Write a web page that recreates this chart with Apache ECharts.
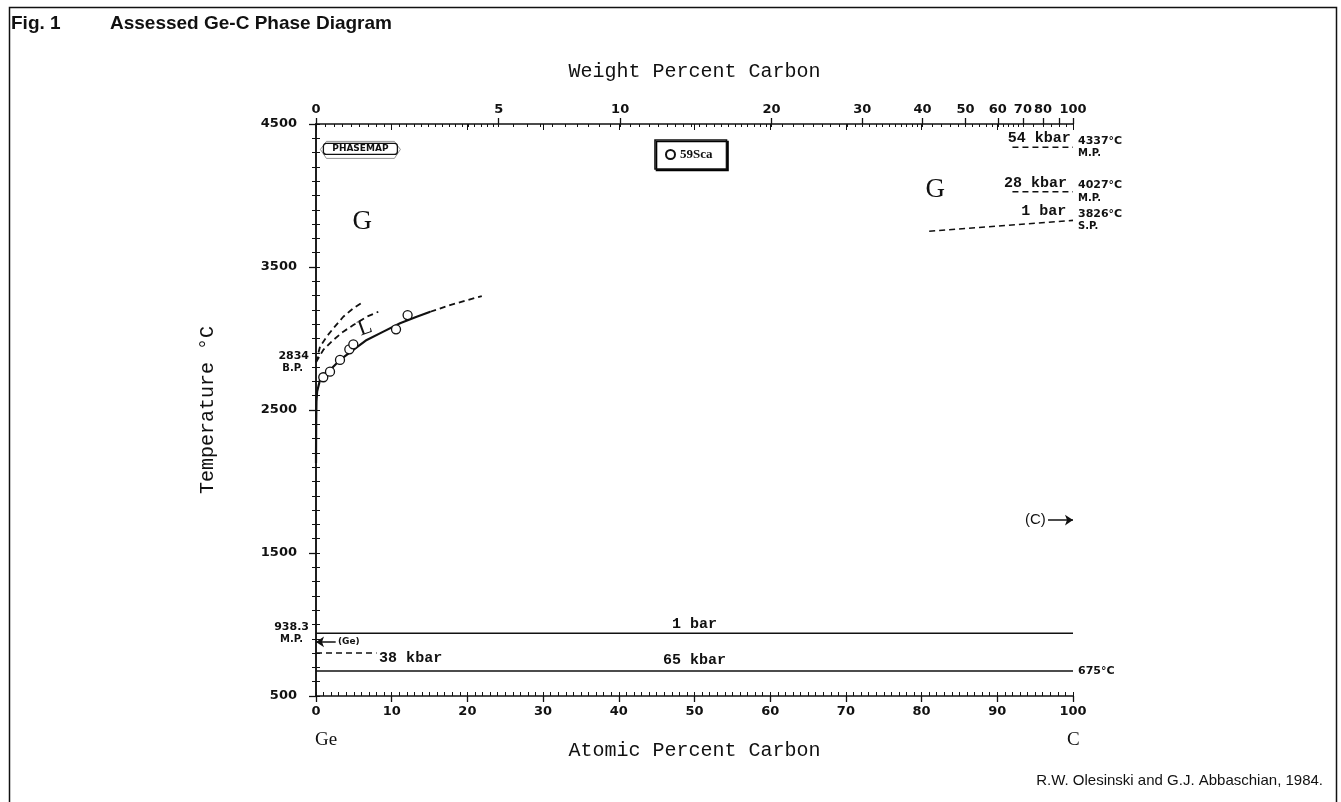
<!DOCTYPE html>
<html>
<head>
<meta charset="utf-8">
<style>
  html, body { margin: 0; padding: 0; background: #fff; }
  #chart { width: 1341px; height: 802px; }
</style>
<script src="https://cdn.jsdelivr.net/npm/echarts@6/dist/echarts.min.js"></script>
</head>
<body>
<div id="chart"></div>
<script>
// atomic masses used for the weight-percent scale
const GE_MASS = 72.61;
const C_MASS = 12.011;

// liquidus (at.% C, °C)
const liquidus = [[0, 2130], [0.02, 2400], [0.06, 2560], [0.15, 2630], [0.5, 2705], [0.96, 2745],
  [1.85, 2780], [3.17, 2850], [4.93, 2920], [6.7, 2990], [8.9, 3048], [11.1, 3106], [13.3, 3152], [15.1, 3187]];
const liquidusDashed = [[15.1, 3187], [17.7, 3234], [21.9, 3297]];
const upperDashed = [[0, 2834], [0.53, 2943], [1.41, 3013], [2.29, 3071], [3.6, 3152], [4.93, 3211], [6.25, 3257]];
const lowerDashed = [[0, 2834], [0.96, 2920], [2.29, 2990], [3.6, 3048], [4.93, 3094], [6.7, 3152], [8.23, 3187]];
const sca59 = [[0.96, 2729], [1.85, 2768], [3.17, 2850], [4.4, 2924], [4.93, 2959], [10.57, 3064], [12.1, 3164]];

// isotherms and melting lines
const eutectic1bar = [[0, 938.3], [100, 938.3]];
const eutectic65kbar = [[0, 675], [100, 675]];
const ge38kbar = [[0, 800], [8, 800]];
const c54kbar = [[92, 4337], [100, 4337]];
const c28kbar = [[92, 4027], [100, 4027]];
const c1bar = [[81, 3750], [100, 3826]];

// arrows
const geArrow = [[2.6, 878], [0, 878]];
const cArrow = [[96.7, 1730], [100, 1730]];

// text notes
const noteText = ["G", "G", "L", "1 bar", "65 kbar", "38 kbar", "54 kbar", "28 kbar", "1 bar", "(Ge)", "(C)"];
const notePos = [[6.1, 3815], [81.8, 4038], [6.5, 3073], [50, 1000], [50, 751], [12.5, 765],
  [99.7, 4398], [99.2, 4088], [99.1, 3890], [2.9, 878], [96.4, 1730]];
const noteKind = ["phase", "phase", "liq", "mono", "mono", "mono", "monoR", "monoR", "monoR", "small", "sans"];

// ticks
const tempLabels = [500, 1500, 2500, 3500, 4500];
const leftPoints = [938.3, 2834];
const leftPointNames = ["M.P.", "B.P."];
const rightPoints = [675, 3826, 4027, 4337];
const rightPointNames = ["", "S.P.", "M.P.", "M.P."];
const wtLabels = [0, 5, 10, 20, 30, 40, 50, 60, 70, 80, 100];
const wtMajor = [0, 5, 10, 20, 30, 40, 50, 60, 70, 80, 90, 100];
const wtMinorSteps = [[0, 5, 0.2], [5, 20, 0.5], [20, 40, 1], [40, 70, 2], [70, 100, 5]];

function atFromWt(w) {
  if (w <= 0) return 0;
  if (w >= 100) return 100;
  const a = w / C_MASS;
  const b = (100 - w) / GE_MASS;
  return (100 * a) / (a + b);
}

function wtFromAt(x) {
  if (x <= 0) return 0;
  if (x >= 100) return 100;
  const a = x * C_MASS;
  const b = (100 - x) * GE_MASS;
  return (100 * a) / (a + b);
}

const wtMinor = [];
wtMinorSteps.forEach(([from, to, step]) => {
  for (let w = from; w < to - 1e-9; w += step) wtMinor.push(atFromWt(w));
});

const ink = "#111";
const mono = "Liberation Mono";
const tickFont = "DejaVu Sans";

const plain = { textBorderWidth: 0, textBorderColor: "transparent", textShadowBlur: 0 };
const noteStyles = {
  phase: { fontFamily: "Liberation Serif", fontSize: 27, color: ink },
  liq: { fontFamily: "Liberation Serif", fontSize: 22, color: ink, rotate: 20 },
  mono: { fontFamily: mono, fontSize: 15, fontWeight: "bold", color: ink },
  monoR: { fontFamily: mono, fontSize: 15, fontWeight: "bold", color: ink, align: "right" },
  small: { fontFamily: tickFont, fontSize: 9, fontWeight: "bold", color: ink, align: "left" },
  sans: { fontFamily: "Liberation Sans", fontSize: 15, color: ink, align: "right" },
};

function curve(data, dashed, width) {
  return {
    type: "line",
    data,
    showSymbol: false,
    silent: true,
    lineStyle: { color: ink, width: width || 1.8, type: dashed ? [6, 4] : "solid" },
  };
}

const hidden = { show: false };

const option = {
  animation: false,
  backgroundColor: "#fff",
  grid: { left: 316, right: 268, top: 124, bottom: 106, outerBoundsMode: "none" },
  legend: {
    data: ["59Sca"],
    left: 655,
    top: 140,
    selectedMode: false,
    itemWidth: 9,
    itemHeight: 9,
    padding: [8, 14, 8, 10],
    borderColor: ink,
    borderWidth: 1.6,
    backgroundColor: "#fff",
    shadowColor: "#000",
    shadowOffsetX: 1.5,
    shadowOffsetY: 1.5,
    textStyle: { fontFamily: "Liberation Serif", fontWeight: "bold", fontSize: 13, color: ink },
  },
  xAxis: [
    {
      type: "value", position: "bottom", min: 0, max: 100, interval: 10,
      name: "Atomic Percent Carbon", nameLocation: "middle", nameGap: 45,
      nameTextStyle: { fontFamily: mono, fontSize: 20, color: ink },
      axisLine: { onZero: false, lineStyle: { color: ink, width: 1.5 } },
      axisTick: { length: 6, lineStyle: { color: ink, width: 1.3 } },
      axisLabel: { margin: 9, fontFamily: tickFont, fontWeight: "bold", fontSize: 13, color: ink },
      splitLine: hidden,
    },
    {
      type: "value", position: "bottom", min: 0, max: 100, interval: 1,
      axisLine: hidden, axisLabel: hidden, splitLine: hidden,
      axisTick: { inside: true, length: 4, lineStyle: { color: ink, width: 1 } },
    },
    {
      type: "value", position: "top", min: 0, max: 100,
      name: "Weight Percent Carbon", nameLocation: "middle", nameGap: 42,
      nameTextStyle: { fontFamily: mono, fontSize: 20, color: ink },
      axisLine: { onZero: false, lineStyle: { color: ink, width: 1.5 } },
      axisTick: { length: 6, customValues: wtMajor.map(atFromWt), lineStyle: { color: ink, width: 1.3 } },
      axisLabel: {
        margin: 8, fontFamily: tickFont, fontWeight: "bold", fontSize: 13, color: ink,
        customValues: wtLabels.map(atFromWt),
        formatter: (v) => String(Math.round(wtFromAt(v))),
      },
      splitLine: hidden,
    },
    {
      type: "value", position: "top", min: 0, max: 100,
      axisLine: hidden, axisLabel: hidden, splitLine: hidden,
      axisTick: { inside: true, length: 3, customValues: wtMinor, lineStyle: { color: ink, width: 1 } },
    },
    {
      type: "value", position: "top", min: 0, max: 100, interval: 10,
      axisLine: hidden, axisLabel: hidden, splitLine: hidden,
      axisTick: { inside: true, length: 6, lineStyle: { color: ink, width: 1 } },
    },
  ],
  yAxis: [
    {
      type: "value", position: "left", min: 500, max: 4500,
      name: "Temperature °C", nameLocation: "middle", nameGap: 98, nameRotate: 90,
      nameTextStyle: { fontFamily: mono, fontSize: 20, color: ink },
      axisLine: { lineStyle: { color: ink, width: 1.5 } },
      axisTick: { length: 7, customValues: tempLabels, lineStyle: { color: ink, width: 1.3 } },
      axisLabel: {
        margin: 3,
        customValues: tempLabels.concat(leftPoints).sort((a, b) => a - b),
        formatter: (v) => {
          const i = leftPoints.indexOf(v);
          if (i >= 0) return `{pv|${v}}\n{pn|${leftPointNames[i]}}`;
          return `{main|${v}}`;
        },
        rich: {
          main: { fontFamily: tickFont, fontWeight: "bold", fontSize: 13, color: ink, padding: [0, 16, 0, 0] },
          pv: { fontFamily: tickFont, fontWeight: "bold", fontSize: 11, color: ink, lineHeight: 13, padding: [0, 4, 0, 0] },
          pn: { fontFamily: tickFont, fontWeight: "bold", fontSize: 10, color: ink, lineHeight: 13, padding: [0, 10, 0, 0] },
        },
      },
      splitLine: hidden,
    },
    {
      type: "value", position: "left", min: 500, max: 4500, interval: 100,
      axisLine: hidden, axisLabel: hidden, splitLine: hidden,
      axisTick: { length: 4, lineStyle: { color: ink, width: 1 } },
    },
    {
      type: "value", position: "right", min: 500, max: 4500, interval: 100,
      axisLine: { lineStyle: { color: ink, width: 1.5 } },
      axisTick: { length: 4, lineStyle: { color: ink, width: 1 } },
      axisLabel: {
        margin: 5,
        customValues: rightPoints,
        formatter: (v) => {
          const i = rightPoints.indexOf(v);
          const name = rightPointNames[i];
          return name ? `{pv|${v}°C}\n{pn|${name}}` : `{pv|${v}°C}`;
        },
        rich: {
          pv: { fontFamily: tickFont, fontWeight: "bold", fontSize: 11, color: ink, lineHeight: 13 },
          pn: { fontFamily: tickFont, fontWeight: "bold", fontSize: 10, color: ink, lineHeight: 12 },
        },
      },
      splitLine: hidden,
    },
  ],
  series: [
    curve(liquidus, false, 2.2),
    curve(liquidusDashed, true, 1.8),
    curve(upperDashed, true, 1.8),
    curve(lowerDashed, true, 1.8),
    curve(eutectic1bar, false, 1.6),
    curve(eutectic65kbar, false, 1.6),
    curve(ge38kbar, true, 1.5),
    curve(c54kbar, true, 1.5),
    curve(c28kbar, true, 1.5),
    curve(c1bar, true, 1.6),
    {
      name: "59Sca",
      type: "scatter",
      data: sca59,
      symbol: "circle",
      symbolSize: 9,
      itemStyle: { color: "#fff", borderColor: ink, borderWidth: 1.3, opacity: 1 },
      z: 5,
    },
    {
      type: "lines",
      coordinateSystem: "cartesian2d",
      data: [{ coords: geArrow }, { coords: cArrow }],
      symbol: ["none", "arrow"],
      symbolSize: 8,
      lineStyle: { color: ink, width: 1.5, opacity: 1 },
      silent: true,
    },
    {
      type: "scatter",
      symbolSize: 0,
      silent: true,
      itemStyle: { color: "transparent", opacity: 1 },
      data: notePos.map((p, i) => ({
        value: p,
        label: Object.assign({ show: true, position: "inside", formatter: noteText[i] }, plain, noteStyles[noteKind[i]]),
      })),
      z: 6,
    },
  ],
  graphic: [
    {
      type: "rect", left: 7, top: 5, silent: true,
      shape: { width: 1327, height: 830 },
      style: { fill: "none", stroke: ink, lineWidth: 1.5 },
    },
    {
      type: "text", left: 11, top: 14,
      style: { text: "Fig. 1", font: "bold 19px 'Liberation Sans'", fill: ink },
    },
    {
      type: "text", left: 110, top: 14,
      style: { text: "Assessed Ge-C Phase Diagram", font: "bold 19px 'Liberation Sans'", fill: ink },
    },
    {
      type: "text", right: 18, top: 773,
      style: { text: "R.W. Olesinski and G.J. Abbaschian, 1984.", font: "15px 'Liberation Sans'", fill: ink, align: "right" },
    },
    {
      type: "text", left: 315, top: 731,
      style: { text: "Ge", font: "19px 'Liberation Serif'", fill: ink },
    },
    {
      type: "text", left: 1067, top: 731,
      style: { text: "C", font: "19px 'Liberation Serif'", fill: ink },
    },
    {
      type: "group", left: 320, top: 141,
      children: [
        {
          type: "polygon",
          shape: { points: [[0, 8], [6, 0], [74, 0], [80, 8], [74, 17], [6, 17]] },
          style: { fill: "#fff", stroke: "#777", lineWidth: 0.8 },
        },
        {
          type: "rect",
          shape: { x: 3, y: 2, width: 74, height: 11, r: 3 },
          style: { fill: "#fff", stroke: ink, lineWidth: 1.3 },
        },
        {
          type: "text", x: 40, y: 7.5,
          style: { text: "PHASEMAP", font: "bold 9px 'DejaVu Sans'", fill: ink, align: "center", verticalAlign: "middle" },
        },
      ],
    },
  ],
};

const chart = echarts.init(document.getElementById("chart"), null, { renderer: "canvas" });
chart.setOption(option);
</script>
</body>
</html>
